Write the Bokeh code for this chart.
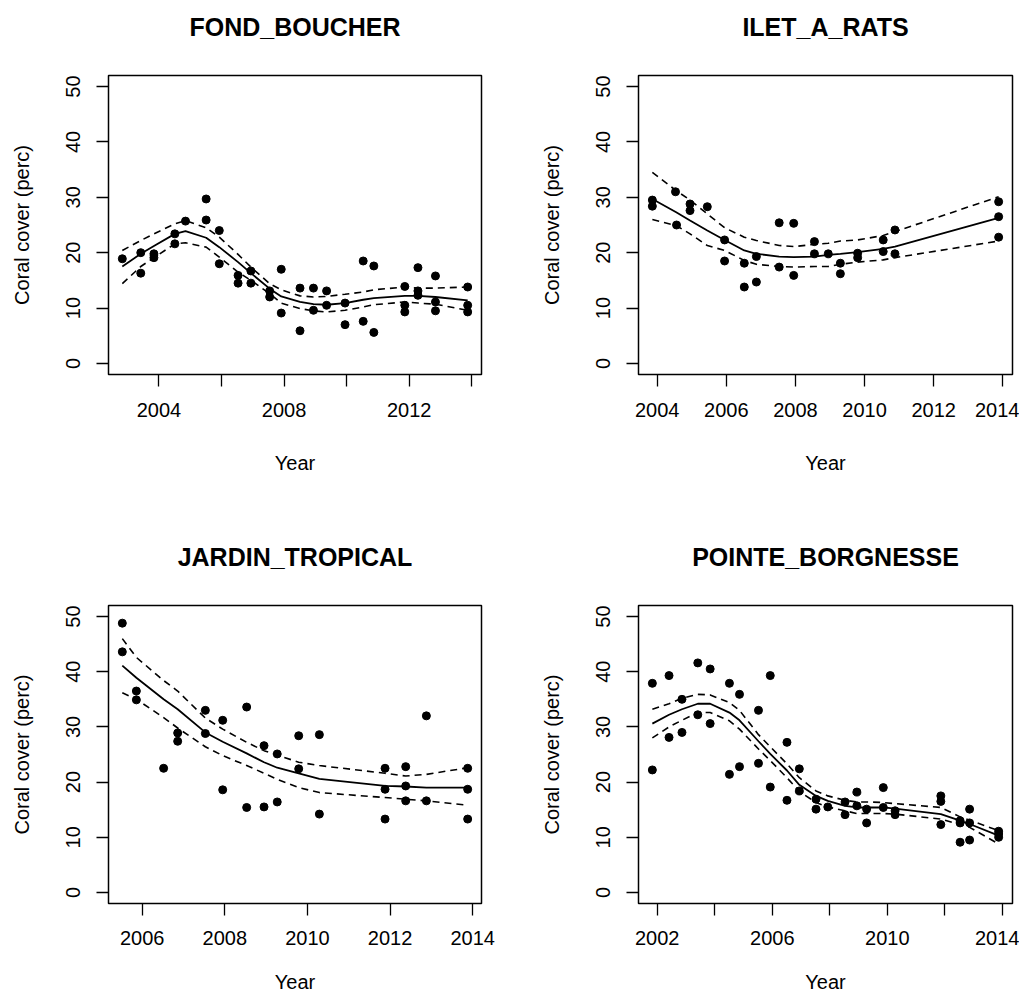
from bokeh.plotting import figure
from bokeh.layouts import gridplot
from bokeh.models import Range1d, FixedTicker, LinearAxis
from bokeh.embed import file_html
from bokeh.resources import INLINE

FONT = "Liberation Sans"

# ---------------- FOND_BOUCHER ----------------
fb_fit_year = [2002.83, 2003.42, 2003.84, 2004.51, 2004.85, 2005.51, 2005.93, 2006.53, 2006.94,
               2007.54, 2007.91, 2008.51, 2008.94, 2009.36, 2009.95, 2010.53, 2010.87, 2011.86,
               2012.28, 2012.84, 2013.87]
fb_fit = [17.5, 19.8, 21.2, 23.4, 23.9, 22.7, 21.0, 18.3, 16.3, 13.5, 12.1, 11.1, 10.7, 10.6,
          10.9, 11.5, 11.8, 12.2, 12.2, 12.0, 11.4]
fb_upper = [20.4, 22.2, 23.4, 25.2, 25.8, 24.5, 22.8, 19.7, 17.4, 14.4, 13.3, 12.2, 12.0, 12.1,
            12.5, 12.9, 13.3, 13.8, 13.6, 13.6, 13.8]
fb_lower = [14.4, 17.5, 19.1, 21.6, 21.8, 21.0, 19.2, 16.5, 15.0, 12.6, 10.9, 9.9, 9.5, 9.3,
            9.6, 10.2, 10.6, 11.1, 10.9, 10.7, 9.6]
fb_pt_year = [2002.83, 2003.42, 2003.42, 2003.84, 2003.84, 2004.51, 2004.51, 2004.85, 2005.51,
              2005.51, 2005.93, 2005.93, 2006.53, 2006.53, 2006.94, 2006.94, 2007.54, 2007.54,
              2007.91, 2007.91, 2008.51, 2008.51, 2008.94, 2008.94, 2009.36, 2009.36, 2009.95,
              2009.95, 2010.53, 2010.53, 2010.87, 2010.87, 2011.86, 2011.86, 2011.86, 2012.28,
              2012.28, 2012.28, 2012.84, 2012.84, 2012.84, 2013.87, 2013.87, 2013.87]
fb_pt_cover = [18.9, 20.0, 16.3, 19.8, 19.1, 23.4, 21.6, 25.7, 29.7, 25.9, 24.0, 18.0, 15.9,
               14.5, 16.7, 14.5, 13.1, 12.0, 17.0, 9.1, 13.6, 5.9, 13.6, 9.6, 13.1, 10.5, 10.9,
               7.0, 18.5, 7.6, 17.6, 5.6, 13.9, 10.5, 9.3, 17.3, 13.1, 12.3, 15.8, 11.1, 9.5,
               13.8, 10.5, 9.3]

# ---------------- ILET_A_RATS ----------------
ir_fit_year = [2003.86, 2004.55, 2004.95, 2005.45, 2005.95, 2006.52, 2006.87, 2007.53, 2007.95,
               2008.55, 2008.95, 2009.30, 2009.80, 2010.54, 2010.88, 2013.88]
ir_fit = [29.7, 27.3, 25.8, 24.0, 22.3, 20.4, 19.8, 19.3, 19.2, 19.3, 19.6, 19.8, 20.1, 20.7,
          21.1, 26.3]
ir_upper = [34.5, 31.2, 29.5, 27.0, 24.5, 22.8, 22.2, 21.3, 21.1, 21.5, 21.7, 22.1, 22.3, 23.1,
            23.8, 30.1]
ir_lower = [26.0, 24.9, 23.4, 21.3, 20.4, 18.6, 17.9, 17.5, 17.4, 17.5, 17.5, 17.9, 18.3, 18.7,
            19.1, 22.1]
ir_pt_year = [2003.86, 2003.86, 2004.53, 2004.56, 2004.95, 2004.95, 2005.45, 2005.95, 2005.95,
              2006.52, 2006.52, 2006.87, 2006.87, 2007.53, 2007.53, 2007.95, 2007.95, 2008.55,
              2008.55, 2008.95, 2009.30, 2009.30, 2009.80, 2009.80, 2010.54, 2010.54, 2010.88,
              2010.88, 2013.88, 2013.88, 2013.88]
ir_pt_cover = [29.5, 28.4, 31.0, 25.0, 28.8, 27.6, 28.3, 22.3, 18.5, 18.1, 13.8, 19.3, 14.7,
               25.4, 17.4, 25.3, 15.9, 22.0, 19.8, 19.8, 18.1, 16.2, 19.9, 19.1, 22.3, 20.2,
               24.1, 19.8, 29.2, 26.5, 22.8]

# ---------------- JARDIN_TROPICAL ----------------
jt_fit_year = [2005.52, 2005.86, 2006.52, 2006.86, 2007.53, 2007.95, 2008.53, 2008.95, 2009.27,
               2009.79, 2010.29, 2011.88, 2012.38, 2012.88, 2013.88]
jt_fit = [41.1, 38.9, 35.0, 33.2, 29.0, 27.3, 25.2, 23.6, 22.6, 21.6, 20.6, 19.3, 19.2, 19.0, 19.0]
jt_upper = [46.0, 42.6, 38.4, 36.5, 31.6, 29.6, 27.2, 25.7, 24.9, 23.6, 23.0, 21.6, 21.1, 21.4,
            22.6]
jt_lower = [36.2, 35.0, 31.7, 29.8, 26.4, 24.8, 23.0, 21.6, 20.5, 19.0, 18.1, 17.2, 16.9, 16.6,
            15.8]
jt_pt_year = [2005.52, 2005.52, 2005.86, 2005.86, 2006.52, 2006.86, 2006.86, 2007.53, 2007.53,
              2007.95, 2007.95, 2008.53, 2008.53, 2008.95, 2008.95, 2009.27, 2009.27, 2009.79,
              2009.79, 2010.29, 2010.29, 2011.88, 2011.88, 2011.88, 2012.38, 2012.38, 2012.38,
              2012.88, 2012.88, 2013.88, 2013.88, 2013.88]
jt_pt_cover = [48.8, 43.6, 36.5, 34.9, 22.5, 28.9, 27.4, 33.0, 28.8, 31.2, 18.6, 33.6, 15.4,
               26.6, 15.5, 25.1, 16.4, 28.4, 22.4, 28.6, 14.2, 22.5, 18.7, 13.3, 22.8, 19.3,
               16.6, 32.0, 16.6, 22.5, 18.7, 13.3]

# ---------------- POINTE_BORGNESSE ----------------
pb_fit_year = [2001.83, 2002.41, 2002.86, 2003.41, 2003.84, 2004.51, 2004.86, 2005.52, 2005.93,
               2006.51, 2006.94, 2007.52, 2007.93, 2008.53, 2008.94, 2009.28, 2009.86, 2010.27,
               2011.86, 2012.53, 2012.86, 2013.87]
pb_fit = [30.6, 32.2, 33.2, 34.2, 34.2, 32.6, 31.2, 27.4, 25.1, 22.1, 19.5, 17.5, 16.6, 15.7,
          15.4, 15.4, 15.4, 15.2, 14.2, 13.0, 12.4, 10.3]
pb_upper = [33.2, 34.2, 35.2, 35.9, 35.8, 34.4, 33.0, 28.6, 26.4, 23.3, 20.8, 18.4, 17.5, 16.7,
            16.4, 16.4, 16.3, 16.1, 15.4, 13.7, 13.1, 11.2]
pb_lower = [28.0, 30.0, 31.2, 32.6, 32.6, 31.1, 29.6, 26.0, 23.9, 20.8, 18.3, 16.3, 15.5, 14.8,
            14.3, 14.3, 14.3, 14.2, 13.3, 12.3, 11.8, 8.8]
pb_pt_year = [2001.83, 2001.83, 2002.41, 2002.41, 2002.86, 2002.86, 2003.41, 2003.41, 2003.84,
              2003.84, 2004.51, 2004.51, 2004.86, 2004.86, 2005.52, 2005.52, 2005.93, 2005.93,
              2006.51, 2006.51, 2006.94, 2006.94, 2007.52, 2007.52, 2007.93, 2008.53, 2008.53,
              2008.94, 2008.94, 2009.28, 2009.28, 2009.86, 2009.86, 2010.27, 2010.27, 2011.86,
              2011.86, 2011.86, 2012.53, 2012.53, 2012.53, 2012.86, 2012.86, 2012.86, 2013.87,
              2013.87, 2013.87]
pb_pt_cover = [37.9, 22.2, 39.3, 28.1, 35.0, 29.0, 41.6, 32.2, 40.5, 30.6, 37.9, 21.4, 35.9,
               22.8, 33.0, 23.4, 39.3, 19.1, 27.2, 16.7, 22.4, 18.4, 16.9, 15.1, 15.5, 16.4,
               14.1, 18.2, 15.7, 15.1, 12.6, 19.0, 15.4, 14.8, 14.1, 17.5, 16.5, 12.3, 13.0,
               12.6, 9.1, 15.1, 12.6, 9.5, 11.1, 10.6, 10.0]

y_ticks = [0, 10, 20, 30, 40, 50]
y_lim = (0, 50)

panels = [
    dict(title="FOND_BOUCHER", fy=fb_fit_year, fit=fb_fit, up=fb_upper, lo=fb_lower,
         px=fb_pt_year, py=fb_pt_cover, ticks=[2004, 2006, 2008, 2010, 2012, 2014],
         hide=[2006, 2010, 2014]),
    dict(title="ILET_A_RATS", fy=ir_fit_year, fit=ir_fit, up=ir_upper, lo=ir_lower,
         px=ir_pt_year, py=ir_pt_cover, ticks=[2004, 2006, 2008, 2010, 2012, 2014], hide=[]),
    dict(title="JARDIN_TROPICAL", fy=jt_fit_year, fit=jt_fit, up=jt_upper, lo=jt_lower,
         px=jt_pt_year, py=jt_pt_cover, ticks=[2006, 2008, 2010, 2012, 2014], hide=[]),
    dict(title="POINTE_BORGNESSE", fy=pb_fit_year, fit=pb_fit, up=pb_upper, lo=pb_lower,
         px=pb_pt_year, py=pb_pt_cover, ticks=[2002, 2004, 2006, 2008, 2010, 2012, 2014],
         hide=[2004, 2008, 2012]),
]

layout_specs = [
    dict(fw=373, fh=299, ml=108, mr=27, mt=75, mb=164, ls=16, as_=32, ts=35),
    dict(fw=374, fh=299, ml=130, mr=7, mt=75, mb=164, ls=16, as_=32, ts=35),
    dict(fw=373, fh=298, ml=108, mr=27, mt=67, mb=96, ls=15, as_=23, ts=35),
    dict(fw=374, fh=298, ml=130, mr=7, mt=67, mb=96, ls=15, as_=23, ts=35),
]


def r_range(vals):
    lo, hi = min(vals), max(vals)
    pad = 0.04 * (hi - lo)
    return lo - pad, hi + pad


figs = []
for spec, lay in zip(panels, layout_specs):
    x0, x1 = r_range(spec["px"] + spec["fy"])
    y0, y1 = r_range(list(y_lim))
    p = figure(frame_width=lay["fw"], frame_height=lay["fh"],
               min_border_left=lay["ml"], min_border_right=lay["mr"],
               min_border_top=lay["mt"], min_border_bottom=lay["mb"],
               x_range=Range1d(x0, x1), y_range=Range1d(y0, y1),
               output_backend="svg", toolbar_location=None)
    p.outline_line_color = "black"
    p.outline_line_width = 1.5
    p.outline_line_alpha = 1
    p.xgrid.visible = False
    p.ygrid.visible = False
    p.background_fill_color = "white"
    p.border_fill_color = "white"

    bottom_axis = p.below[0]
    left_axis = p.left[0]

    for ax in (bottom_axis, left_axis):
        ax.axis_line_color = None
        ax.major_tick_line_color = "black"
        ax.major_tick_line_width = 1.3
        ax.major_tick_out = 12
        ax.major_tick_in = 0
        ax.minor_tick_line_color = None
        ax.major_label_text_font = FONT
        ax.major_label_text_font_size = "20px"
        ax.major_label_text_color = "black"
        ax.axis_label_text_font = FONT
        ax.axis_label_text_font_size = "20px"
        ax.axis_label_text_font_style = "normal"
        ax.axis_label_text_color = "black"

    bottom_axis.ticker = FixedTicker(ticks=spec["ticks"])
    bottom_axis.major_label_overrides = {t: "" for t in spec["hide"]}
    bottom_axis.axis_label = "Year"
    bottom_axis.major_label_standoff = lay["ls"]
    bottom_axis.axis_label_standoff = lay["as_"]

    left_axis.ticker = FixedTicker(ticks=y_ticks)
    left_axis.major_label_orientation = "vertical"
    left_axis.axis_label = "Coral cover (perc)"
    left_axis.major_label_standoff = 16
    left_axis.axis_label_standoff = 31

    # panel title: the label of a tick-less axis above the frame
    top_axis = LinearAxis(ticker=FixedTicker(ticks=[]), axis_label=spec["title"],
                          axis_line_color=None, major_tick_line_color=None,
                          minor_tick_line_color=None, major_label_text_font_size="1px",
                          axis_label_text_font=FONT, axis_label_text_font_size="25px",
                          axis_label_text_font_style="bold", axis_label_text_color="black",
                          axis_label_standoff=lay["ts"])
    p.add_layout(top_axis, "above")

    p.scatter(spec["px"], spec["py"], size=8, color="black")
    p.line(spec["fy"], spec["fit"], line_color="black", line_width=1.8)
    p.line(spec["fy"], spec["up"], line_color="black", line_width=1.6, line_dash="7 5")
    p.line(spec["fy"], spec["lo"], line_color="black", line_width=1.6, line_dash="7 5")
    figs.append(p)

grid = gridplot([[figs[0], figs[1]], [figs[2], figs[3]]], toolbar_location=None)

open("out.html", "w").write(file_html(grid, INLINE))
